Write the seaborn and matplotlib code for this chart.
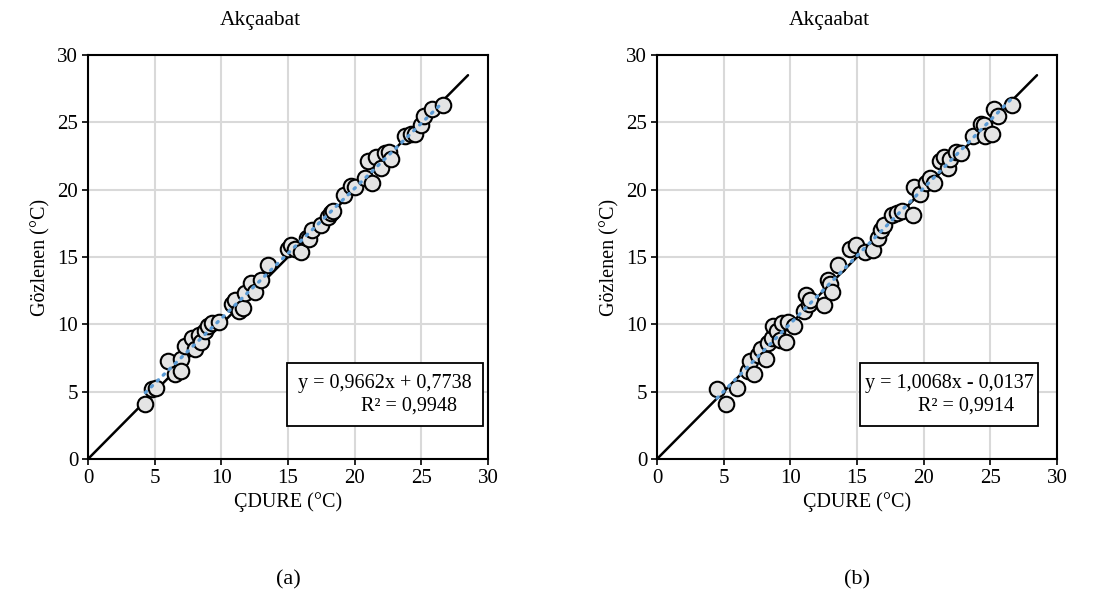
import matplotlib
matplotlib.use("Agg")
import matplotlib.pyplot as plt
import seaborn as sns
import numpy as np
import pandas as pd
from matplotlib.patches import Rectangle

# Panel (a) data: model (ÇDURE) vs observed
a_pred = [4.3, 4.8, 5.1, 6.0, 6.5, 7.0, 7.0, 7.3, 7.8, 8.0, 8.3, 8.5, 8.8, 9.0, 9.3, 9.8,
          10.8, 11.0, 11.3, 11.6, 11.8, 12.2, 12.5, 13.0, 13.5, 15.0, 15.2, 15.5, 16.0,
          16.4, 16.6, 16.8, 17.5, 18.0, 18.2, 18.4, 19.2, 19.7, 20.0, 20.8, 21.0, 21.3,
          21.6, 22.0, 22.3, 22.6, 22.7, 23.8, 24.2, 24.5, 25.0, 25.2, 25.8, 26.6]
a_obs = [4.1, 5.2, 5.3, 7.3, 6.3, 7.4, 6.5, 8.4, 9.0, 8.2, 9.2, 8.7, 9.5, 9.9, 10.1, 10.2,
         11.5, 11.8, 11.0, 11.2, 12.3, 13.1, 12.4, 13.3, 14.4, 15.6, 15.9, 15.6, 15.4,
         16.4, 16.3, 17.0, 17.4, 18.0, 18.3, 18.4, 19.6, 20.3, 20.2, 20.9, 22.1, 20.5,
         22.4, 21.6, 22.7, 22.8, 22.3, 24.0, 24.1, 24.1, 24.8, 25.5, 26.0, 26.3]

# Panel (b) data
b_pred = [4.5, 5.2, 6.0, 6.8, 7.0, 7.3, 7.6, 7.8, 8.2, 8.3, 8.6, 8.7, 9.0, 9.2, 9.4, 9.7,
          9.8, 10.3, 11.0, 11.2, 11.4, 11.5, 12.5, 12.8, 13.0, 13.1, 13.6, 14.5, 14.9,
          15.6, 16.2, 16.6, 16.8, 17.0, 17.6, 18.0, 18.4, 19.2, 19.3, 19.7, 20.2, 20.5,
          20.8, 21.2, 21.5, 21.8, 22.0, 22.4, 22.8, 23.7, 24.3, 24.5, 24.6, 25.1, 25.3,
          25.6, 26.6]
b_obs = [5.2, 4.1, 5.3, 6.5, 7.3, 6.3, 7.7, 8.2, 7.4, 8.6, 9.0, 9.9, 9.5, 8.8, 10.1, 8.7,
         10.2, 9.9, 11.0, 12.2, 11.5, 11.8, 11.4, 13.3, 13.0, 12.4, 14.4, 15.6, 15.9,
         15.4, 15.5, 16.4, 17.0, 17.4, 18.1, 18.3, 18.4, 18.1, 20.2, 19.7, 20.5, 20.9,
         20.5, 22.1, 22.4, 21.6, 22.3, 22.8, 22.7, 24.0, 24.9, 24.8, 24.0, 24.1, 26.0,
         25.5, 26.3]

slopes = [0.9662, 1.0068]
intercepts = [0.7738, -0.0137]
eq_texts = ["y = 0,9662x + 0,7738", "y = 1,0068x - 0,0137"]
r2_texts = ["R² = 0,9948", "R² = 0,9914"]
panel_labels = ["(a)", "(b)"]
title = "Akçaabat"
ticks = [0, 5, 10, 15, 20, 25, 30]

sns.set_theme(style="whitegrid")
plt.rcParams['font.family'] = ['Liberation Serif', 'DejaVu Serif']

fig = plt.figure(figsize=(11.05, 6.11), dpi=100)
lefts = [88 / 1105, 657 / 1105]
axes = [fig.add_axes([l, 1 - 459 / 611, 400 / 1105, 404 / 611]) for l in lefts]

datasets = [(a_pred, a_obs), (b_pred, b_obs)]
box_x = [(14.9, 29.6), (15.2, 28.6)]
eq_x = [22.25, 21.9]
r2_x = [24.1, 23.2]

for i, ax in enumerate(axes):
    px, ob = datasets[i]
    df = pd.DataFrame({"pred": px, "obs": ob})
    # 1:1 line
    ax.plot([0, 28.5], [0, 28.5], color="black", lw=1.8, zorder=2)
    sns.scatterplot(data=df, x="pred", y="obs", ax=ax, s=125, color="#e4e4e4",
                    edgecolor="black", linewidth=1.5, zorder=3)
    xs = np.array([min(px), max(px)])
    ax.plot(xs, slopes[i] * xs + intercepts[i], color="#5b9bd5", lw=2.4,
            linestyle=(0, (0.5, 2.0)), dash_capstyle="round", zorder=4)
    ax.set_xlim(0, 30)
    ax.set_ylim(0, 30)
    ax.set_xticks(ticks)
    ax.set_yticks(ticks)
    ax.grid(True, color="#d9d9d9", lw=1.5)
    for sp in ax.spines.values():
        sp.set_color("black")
        sp.set_linewidth(1.5)
    ax.tick_params(axis="both", which="both", direction="out", length=4, width=1.2,
                   color="black", labelsize=15, labelcolor="black", pad=3,
                   left=True, bottom=True)
    ax.set_xlabel("ÇDURE (°C)", fontsize=14.5, color="black", labelpad=3)
    ax.set_ylabel("Gözlenen (°C)", fontsize=14.5, color="black", labelpad=5)
    fig.text(lefts[i] + 172 / 1105, 1 - 20 / 611, title, ha="center", va="center",
             fontsize=15.5, color="black")
    x0, x1 = box_x[i]
    ax.add_patch(Rectangle((x0, 2.45), x1 - x0, 4.68, facecolor="white",
                           edgecolor="black", lw=1.3, zorder=5))
    ax.text(eq_x[i], 5.6, eq_texts[i], ha="center", va="center", fontsize=14.5,
            color="black", zorder=6)
    ax.text(r2_x[i], 3.9, r2_texts[i], ha="center", va="center", fontsize=14.5,
            color="black", zorder=6)
    fig.text(lefts[i] + 200 / 1105, 1 - 580 / 611, panel_labels[i], ha="center",
             va="center", fontsize=16, color="black")

fig.savefig("out.png", dpi=100)
